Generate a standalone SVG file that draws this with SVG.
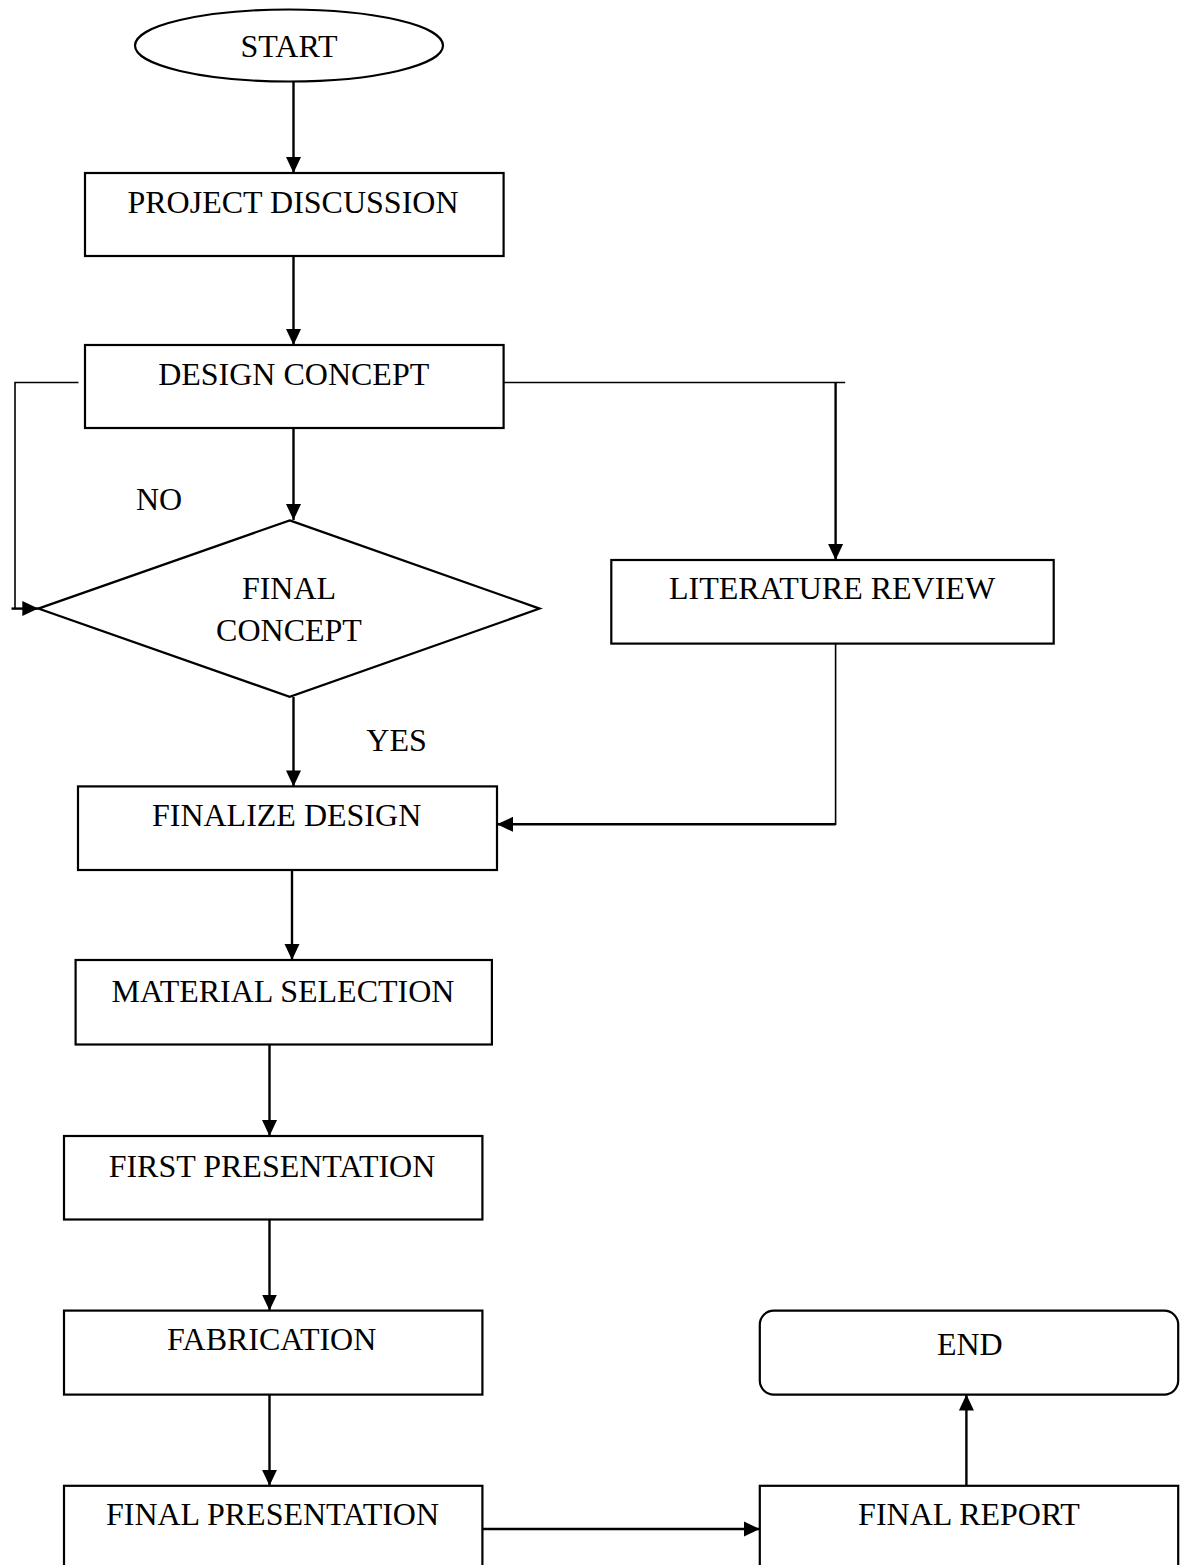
<svg xmlns="http://www.w3.org/2000/svg" width="1182" height="1565" viewBox="0 0 1182 1565">
<style>
.box{fill:#fff;stroke:#000;stroke-width:2.2}
.t{font-family:"Liberation Serif","Times New Roman",serif;font-size:32px;fill:#000;text-anchor:middle}
.c{fill:none;stroke:#000;stroke-width:2.4}
.l{fill:none;stroke:#000;stroke-width:1.6}
</style>
<defs>
<marker id="ah" markerUnits="userSpaceOnUse" markerWidth="18" markerHeight="18" refX="16" refY="8" orient="auto">
<path d="M0,0.5 L16,8 L0,15.5 z" fill="#000"/>
</marker>
</defs>
<rect width="1182" height="1565" fill="#fff"/>
<g id="connectors">
<line class="c" x1="293.5" y1="81" x2="293.5" y2="173" marker-end="url(#ah)"/>
<line class="c" x1="293.5" y1="256" x2="293.5" y2="345" marker-end="url(#ah)"/>
<polyline class="l" points="78.5,382.5 15,382.5 15,608.6"/>
<line class="c" x1="11.5" y1="608.6" x2="38.3" y2="608.6" marker-end="url(#ah)"/>
<line class="c" x1="293.5" y1="428" x2="293.5" y2="520" marker-end="url(#ah)"/>
<line class="c" x1="293.5" y1="697" x2="293.5" y2="786.4" marker-end="url(#ah)"/>
<line class="l" x1="503.6" y1="382.5" x2="845.2" y2="382.5"/>
<line class="c" x1="835.6" y1="382.5" x2="835.6" y2="560" marker-end="url(#ah)"/>
<polyline class="l" points="835.6,643.6 835.6,824.3 510,824.3"/>
<line class="c" x1="835.6" y1="824.3" x2="497" y2="824.3" marker-end="url(#ah)"/>
<line class="c" x1="292" y1="869.5" x2="292" y2="960" marker-end="url(#ah)"/>
<line class="c" x1="269.5" y1="1044.5" x2="269.5" y2="1136" marker-end="url(#ah)"/>
<line class="c" x1="269.5" y1="1219.5" x2="269.5" y2="1310.6" marker-end="url(#ah)"/>
<line class="c" x1="269.5" y1="1394.6" x2="269.5" y2="1485.8" marker-end="url(#ah)"/>
<line class="c" x1="482.4" y1="1529" x2="759.8" y2="1529" stroke-width="3" marker-end="url(#ah)"/>
<line class="c" x1="966.4" y1="1485.8" x2="966.4" y2="1394.6" marker-end="url(#ah)"/>
</g>
<g id="start">
<ellipse class="box" cx="289" cy="45.5" rx="154" ry="36"/>
<text class="t" x="289" y="56.7">START</text>
</g>
<g id="project-discussion">
<rect class="box" x="85" y="173" width="418.6" height="83"/>
<text class="t" x="293" y="212.7">PROJECT DISCUSSION</text>
</g>
<g id="design-concept">
<rect class="box" x="85" y="345" width="418.6" height="83"/>
<text class="t" x="293.7" y="385">DESIGN CONCEPT</text>
</g>
<g id="final-concept">
<polygon class="box" points="289.7,520.4 539.6,608.6 289.7,696.8 38.3,608.6"/>
<text class="t" x="289" y="598.6">FINAL</text>
<text class="t" x="289" y="640.7">CONCEPT</text>
</g>
<g id="labels">
<text class="t" x="159" y="509.6">NO</text>
<text class="t" x="396.5" y="751.4">YES</text>
</g>
<g id="literature-review">
<rect class="box" x="611.3" y="560" width="442.4" height="83.6"/>
<text class="t" x="832" y="598.6">LITERATURE REVIEW</text>
</g>
<g id="finalize-design">
<rect class="box" x="78" y="786.4" width="419" height="83.6"/>
<text class="t" x="286.6" y="826.4">FINALIZE DESIGN</text>
</g>
<g id="material-selection">
<rect class="box" x="75.6" y="960" width="416.3" height="84.5"/>
<text class="t" x="283" y="1001.7">MATERIAL SELECTION</text>
</g>
<g id="first-presentation">
<rect class="box" x="64" y="1136" width="418.4" height="83.5"/>
<text class="t" x="272" y="1176.6">FIRST PRESENTATION</text>
</g>
<g id="fabrication">
<rect class="box" x="64" y="1310.6" width="418.4" height="84"/>
<text class="t" x="271.7" y="1350.3">FABRICATION</text>
</g>
<g id="final-presentation">
<rect class="box" x="64" y="1485.8" width="418.4" height="100"/>
<text class="t" x="272.5" y="1525.4">FINAL PRESENTATION</text>
</g>
<g id="final-report">
<rect class="box" x="759.8" y="1485.8" width="418.4" height="100"/>
<text class="t" x="969" y="1525.4">FINAL REPORT</text>
</g>
<g id="end">
<rect class="box" x="759.8" y="1310.6" width="418.4" height="84" rx="14" ry="14"/>
<text class="t" x="969.8" y="1355">END</text>
</g>
</svg>
